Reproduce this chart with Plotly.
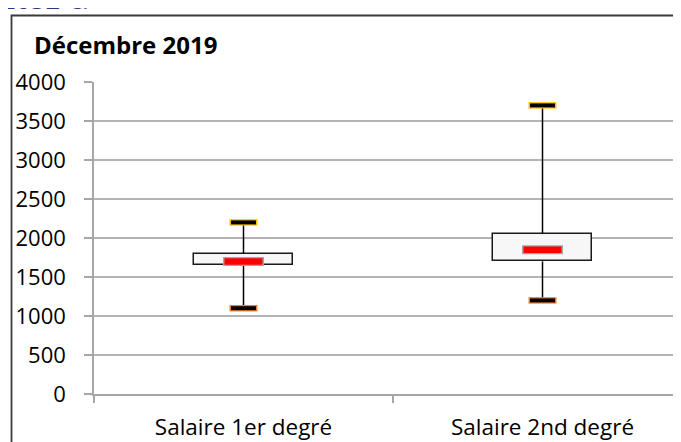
import plotly.graph_objects as go

# ---- data ----
categories = ["Salaire 1er degré", "Salaire 2nd degré"]
q1_vals = [1650, 1700]
q3_vals = [1800, 2050]
median_vals = [1700, 1850]
min_vals = [1100, 1200]
max_vals = [2200, 3700]
y_ticks = [0, 500, 1000, 1500, 2000, 2500, 3000, 3500, 4000]
title_text = "Décembre 2019"
top_text = "2032 €."

FONT = "Open Sans"
xs = list(range(len(categories)))

fig = go.Figure()

# box bodies
fig.add_trace(go.Bar(
    x=xs, base=q1_vals, y=[b - a for a, b in zip(q1_vals, q3_vals)],
    width=0.334, marker=dict(color="#f7f7f7", line=dict(color="#1a1a1a", width=1.5)),
    hoverinfo="skip", showlegend=False,
))

# whiskers
wx, wy = [], []
for x, lo, q1, q3, hi in zip(xs, min_vals, q1_vals, q3_vals, max_vals):
    wx += [x, x, None, x, x, None]
    wy += [lo, q1, None, q3, hi, None]
fig.add_trace(go.Scatter(x=wx, y=wy, mode="lines", line=dict(color="#000000", width=1.5),
                         hoverinfo="skip", showlegend=False))

def bar_marker(xv, yv, size, width, color):
    fig.add_trace(go.Scatter(
        x=xv, y=yv, mode="markers",
        marker=dict(symbol="line-ew", size=size, line=dict(color=color, width=width)),
        hoverinfo="skip", showlegend=False,
    ))

# caps (max: gold border, min: orange border)
bar_marker(xs, max_vals, 28 / 1.4, 6.5, "#ffc000")
bar_marker(xs, max_vals, 25 / 1.4, 4, "#000000")
bar_marker(xs, min_vals, 28 / 1.4, 6.5, "#ed7d31")
bar_marker(xs, min_vals, 25 / 1.4, 4, "#000000")
# medians
bar_marker(xs, median_vals, 41 / 1.4, 9, "#a6a6a6")
bar_marker(xs, median_vals, 38 / 1.4, 6.5, "#ff0000")

# page offset of the figure (default body margin)
OFF = 8
PAGE_W, PAGE_H = 681, 442
W, H = PAGE_W - OFF, PAGE_H - OFF
L = 94 - OFF
T = 82 - OFF
B = H - (394 - OFF)
pw = W - L
ph = H - T - B
cat_w = 299
xmax = -0.5 + pw / cat_w

def px_x(p):  # page pixel -> paper
    return (p - OFF - L) / pw

def px_y(p):
    return (H - B - (p - OFF)) / ph

fig.update_layout(
    width=W, height=H,
    margin=dict(l=L, r=0, t=T, b=B, pad=0),
    paper_bgcolor="white", plot_bgcolor="white",
    font=dict(family=FONT, color="#000000"),
    bargap=0,
    xaxis=dict(
        range=[-0.5, xmax], tickmode="array", tickvals=xs, ticktext=categories,
        ticks="", showgrid=False, zeroline=False,
        showline=True, linecolor="#a6a6a6", linewidth=1.5,
        tickfont=dict(size=22.5, family=FONT), ticklabelstandoff=12,
        minor=dict(tickmode="array", tickvals=[-0.5, 0.5, 1.5], ticks="outside",
                   ticklen=7, tickcolor="#a6a6a6", tickwidth=1.5, showgrid=False),
    ),
    yaxis=dict(
        range=[0, 4000], tickmode="array", tickvals=y_ticks,
        ticks="outside", ticklen=8, tickcolor="#a6a6a6", tickwidth=1.5,
        showgrid=True, gridcolor="#b3b3b3", gridwidth=1.5,
        zeroline=False, showline=True, linecolor="#a6a6a6", linewidth=1.5,
        tickfont=dict(size=22, family=FONT), ticklabelstandoff=14,
    ),
    shapes=[dict(type="rect", xref="paper", yref="paper",
                 x0=px_x(11.5), x1=1.2, y0=-0.5, y1=px_y(15.5),
                 line=dict(color="#3a3a3a", width=1.8), fillcolor="rgba(0,0,0,0)")],
    annotations=[
        dict(text="<b>" + title_text + "</b>", xref="paper", yref="paper",
             x=px_x(32), y=px_y(44), xanchor="left", yanchor="middle",
             showarrow=False, font=dict(size=24, family=FONT, color="#000000")),
        dict(text=top_text, xref="paper", yref="paper",
             x=px_x(-1), y=px_y(-1), xanchor="left", yanchor="middle",
             showarrow=False, font=dict(size=26, family=FONT, color="#2e3580")),
    ],
)

fig.write_html("out.html")
